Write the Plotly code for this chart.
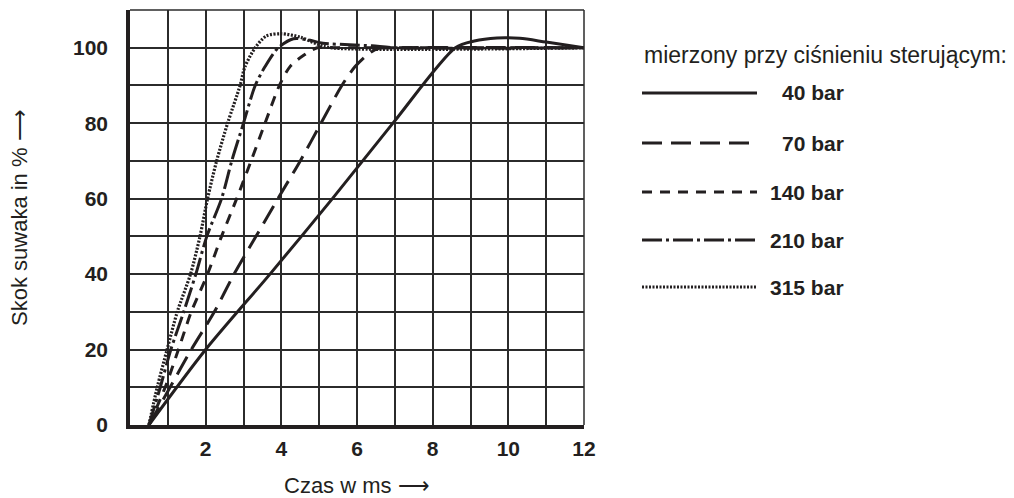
import plotly.graph_objects as go

# ---- data ----
x_40 = [0.5, 2.0, 3.7, 5.35, 6.95, 8.6, 9.1, 9.7, 10.3, 11.0, 12.0]
y_40 = [0, 20, 40, 60, 80, 100, 101.8, 102.6, 102.5, 101.5, 100]

x_70 = [0.5, 1.06, 1.62, 2.23, 2.75, 3.33, 3.91, 4.5, 5.05, 5.6, 5.95, 6.26, 6.55, 7.0, 12.0]
y_70 = [0, 10, 20, 30, 40, 50, 60, 70, 80, 90, 95, 98, 99.8, 100, 100]

x_140 = [0.5, 0.93, 1.28, 1.62, 2.05, 2.42, 2.82, 3.2, 3.57, 3.95, 4.23, 4.59, 4.95, 5.5, 12.0]
y_140 = [0, 10, 20, 30, 40, 50, 60, 70, 80, 90, 95, 98, 100, 100, 100]

x_210 = [0.5, 0.8, 1.08, 1.42, 1.74, 2.03, 2.42, 2.69, 3.0, 3.31, 3.57, 3.92, 4.32, 4.7, 5.1, 5.8, 6.4, 7.0, 12.0]
y_210 = [0, 10, 20, 30, 40, 50, 60, 70, 80, 90, 95, 100, 102.4, 102.1, 101.2, 100.8, 100.5, 100, 100]

x_315 = [0.5, 0.72, 0.98, 1.25, 1.6, 1.85, 2.05, 2.29, 2.58, 2.91, 3.04, 3.31, 3.6, 4.0, 4.5, 4.94, 5.3, 12.0]
y_315 = [0, 10, 20, 30, 40, 50, 60, 70, 80, 90, 95, 100, 103.1, 103.7, 102.8, 101, 100, 100]

series_names = ["40 bar", "70 bar", "140 bar", "210 bar", "315 bar"]
x_tick_vals = [2, 4, 6, 8, 10, 12]
x_tick_text = ["2", "4", "6", "8", "10", "12"]
y_tick_vals = [0, 20, 40, 60, 80, 100]
y_tick_text = ["0", "20", "40", "60", "80", "100"]

legend_title = "mierzony przy ciśnieniu sterującym:"
x_title = "Czas w ms ⟶"
y_title = "Skok suwaka in % ⟶"

# ---- styling ----
INK = "#231f20"
GRID = "#2b2b2b"
BOLD = "Liberation Sans, Arial, sans-serif"
REG = "Liberation Sans, Arial, Helvetica, sans-serif"
dashes = ["solid", "20px,9px", "10px,8px", "20px,4px,3px,4px", "2px,1.5px"]
widths = [3, 3, 3, 3, 3.2]

W, H = 1014, 498
L, R, T, B = 130, 584, 10, 425


def xp(px):
    return (px - L) / (R - L)


def yp(py):
    return (B - py) / (B - T)


fig = go.Figure()
xs = [x_40, x_70, x_140, x_210, x_315]
ys = [y_40, y_70, y_140, y_210, y_315]
for name, x, y, d, w in zip(series_names, xs, ys, dashes, widths):
    fig.add_trace(go.Scatter(
        x=x, y=y, mode="lines", name=name,
        line=dict(color=INK, width=w, dash=d, shape="spline", smoothing=0.8),
        showlegend=False, hoverinfo="skip",
    ))

fig.update_layout(
    width=W, height=H,
    margin=dict(l=L, r=W - R, t=T, b=H - B, pad=0),
    paper_bgcolor="white", plot_bgcolor="white",
    showlegend=False,
    xaxis=dict(
        range=[0, 12], tickvals=x_tick_vals, ticktext=x_tick_text,
        showgrid=True, gridcolor=GRID, gridwidth=1.5,
        minor=dict(dtick=1, tick0=0, showgrid=True, gridcolor=GRID, gridwidth=1.5),
        showline=True, linecolor=INK, linewidth=3.5,
        zeroline=False, ticks="", ticklabelstandoff=2,
        tickfont=dict(family=BOLD, size=21, color=INK, weight="bold"),
        fixedrange=True,
    ),
    yaxis=dict(
        range=[0, 110], tickvals=y_tick_vals, ticktext=y_tick_text,
        showgrid=True, gridcolor=GRID, gridwidth=1.5,
        minor=dict(dtick=10, tick0=0, showgrid=True, gridcolor=GRID, gridwidth=1.5),
        showline=True, linecolor=INK, linewidth=3.5,
        zeroline=False, ticks="", ticklabelstandoff=14,
        tickfont=dict(family=BOLD, size=21, color=INK, weight="bold"),
        fixedrange=True,
    ),
)

# frame top / right
fig.add_shape(type="line", xref="paper", yref="paper", x0=0, x1=1, y0=1, y1=1,
              line=dict(color=GRID, width=1.5))
fig.add_shape(type="line", xref="paper", yref="paper", x0=1, x1=1, y0=0, y1=1,
              line=dict(color=GRID, width=1.5))

# axis titles
fig.add_annotation(text=x_title, xref="paper", yref="paper", x=xp(357), y=yp(485),
                   showarrow=False, xanchor="center", yanchor="middle",
                   font=dict(family=REG, size=22, color=INK))
fig.add_annotation(text=y_title, xref="paper", yref="paper", x=xp(20), y=yp(218),
                   showarrow=False, xanchor="center", yanchor="middle", textangle=-90,
                   font=dict(family=REG, size=22, color=INK))

# custom legend
fig.add_annotation(text=legend_title, xref="paper", yref="paper", x=xp(825), y=yp(55),
                   showarrow=False, xanchor="center", yanchor="middle",
                   font=dict(family=REG, size=23, color=INK))
leg_y = [93, 143, 192, 240, 287]
for name, d, w, py in zip(series_names, dashes, widths, leg_y):
    fig.add_shape(type="line", xref="paper", yref="paper",
                  x0=xp(642), x1=xp(757), y0=yp(py), y1=yp(py),
                  line=dict(color=INK, width=w, dash=d))
    fig.add_annotation(text=name, xref="paper", yref="paper", x=xp(846), y=yp(py),
                       showarrow=False, xanchor="right", yanchor="middle",
                       font=dict(family=BOLD, size=21, color=INK, weight="bold"))

fig.write_html("out.html")
